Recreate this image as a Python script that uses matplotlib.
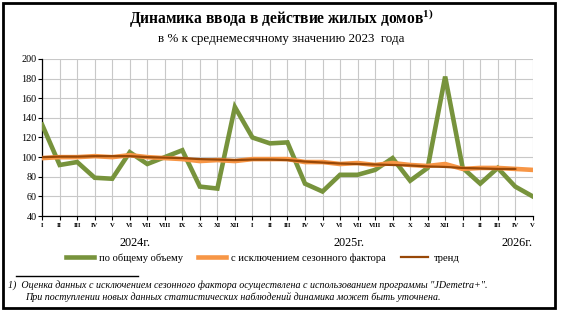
"""Динамика ввода в действие жилых домов"""

import matplotlib
matplotlib.use("Agg")
import matplotlib.pyplot as plt
from matplotlib.patches import Rectangle

plt.rcParams['font.family'] = ['Liberation Serif', 'DejaVu Serif']
plt.rcParams['mathtext.fontset'] = 'custom'
plt.rcParams['mathtext.rm'] = 'Liberation Serif'
plt.rcParams['mathtext.bf'] = 'Liberation Serif:bold'

months = ["I", "II", "III", "IV", "V", "VI", "VII", "VIII", "IX", "X", "XI", "XII",
          "I", "II", "III", "IV", "V", "VI", "VII", "VIII", "IX", "X", "XI", "XII",
          "I", "II", "III", "IV", "V"]
years = ["2024г.", "2025г.", "2026г."]

total = [133, 92, 95, 79, 78, 105, 93, 100, 107, 70, 68, 151,
         120, 114, 115, 73, 65, 82, 82, 87, 99, 76, 89, 182,
         89, 73, 89, 70, 60]
seasonal = [99, 100, 100, 101, 100, 102, 100, 99, 98, 96, 97, 96,
            98, 98, 98, 95, 95, 93, 94, 92, 94, 92, 91, 93,
            88, 89, 89, 88, 87]
trend = [100, 100.5, 100.5, 101, 101, 101, 100, 99.5, 99, 98, 97.5, 97,
         97.5, 97.5, 97, 95.5, 94.5, 93.5, 93, 92.5, 92, 91.5, 90.5, 90,
         89, 88.5, 88, 88]

fig = plt.figure(figsize=(5.62, 3.10), dpi=100)
ax = fig.add_axes([0.075, 0.303, 0.873, 0.507])

x = list(range(len(months)))
ax.plot(x, total, color="#77933C", lw=3.3, solid_joinstyle="miter", label="по общему объему", zorder=3)
ax.plot(x, seasonal, color="#F79646", lw=3.3, label="с исключением сезонного фактора", zorder=4)
ax.plot(x[:len(trend)], trend, color="#984807", lw=1.6, label="тренд", zorder=5)

ax.set_xlim(0, len(months) - 1)
ax.set_ylim(40, 200)
ax.set_yticks(range(40, 201, 20))
ax.set_xticks(x)
ax.set_xticklabels(months, fontsize=4.8, fontweight="bold")
ax.tick_params(axis="y", labelsize=7.3, length=3, width=0.8, pad=1)
ax.tick_params(axis="x", length=3, width=0.8, pad=2)
ax.grid(True, color="#c8c8c8", lw=0.8)
ax.set_axisbelow(True)
for s in ["top", "right"]:
    ax.spines[s].set_visible(False)
for s in ["left", "bottom"]:
    ax.spines[s].set_linewidth(0.9)

# year labels under the month axis
for yr, pos in zip(years, [5.3, 17.5, 27.1]):
    ax.text(pos, -0.17, yr, transform=ax.get_xaxis_transform(), ha="center", va="center", fontsize=8.8)

fig.text(0.5, 0.94, r"Динамика ввода в действие жилых домов$^{\mathbf{1)}}$", ha="center", va="center",
         fontsize=11.2, fontweight="bold")
fig.text(0.5, 0.873, "в % к среднемесячному значению 2023  года", ha="center", va="center", fontsize=9.4)

fig.legend(loc="center", bbox_to_anchor=(0.468, 0.168), ncol=3, frameon=False, fontsize=7.6,
           handlelength=2.6, columnspacing=1.4, handletextpad=0.55)

fig.add_artist(plt.Line2D([0.028, 0.245], [0.11, 0.11], color="black", lw=1.0))
fig.text(0.014, 0.08, "1)  Оценка данных с исключением сезонного фактора осуществлена с использованием программы \"JDemetra+\".",
         fontsize=7.2, style="italic", va="center")
fig.text(0.045, 0.042, "При поступлении новых данных статистических наблюдений динамика может быть уточнена.",
         fontsize=7.2, style="italic", va="center")

fig.add_artist(Rectangle((0.006, 0.006), 0.982, 0.985, transform=fig.transFigure,
                         fill=False, edgecolor="black", lw=2.0))

fig.savefig("out.png", dpi=100)
